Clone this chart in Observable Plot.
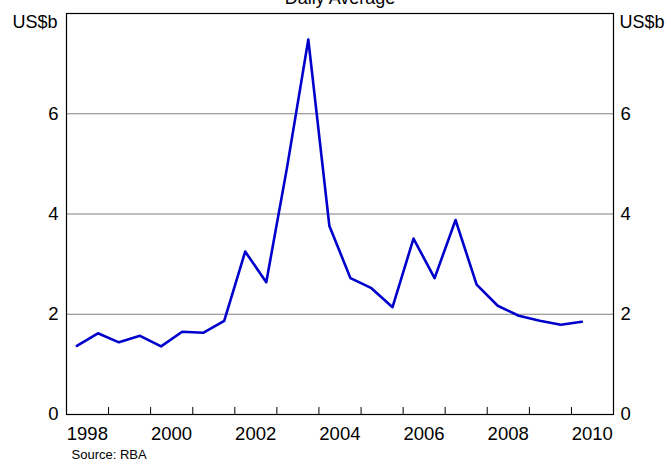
<!DOCTYPE html>
<html>
<head>
<meta charset="utf-8">
<script src="https://cdn.jsdelivr.net/npm/d3@7"></script>
<script src="https://cdn.jsdelivr.net/npm/@observablehq/plot@0.6"></script>
<style>
  html, body { margin: 0; padding: 0; background: white; }
</style>
</head>
<body>
<div id="chart"></div>
<script>
// Semi-annual observations (approx. April and October of each year)
const periods = [
  "1998-04-01", "1998-10-01", "1999-04-01", "1999-10-01", "2000-04-01", "2000-10-01",
  "2001-04-01", "2001-10-01", "2002-04-01", "2002-10-01", "2003-04-01", "2003-10-01",
  "2004-04-01", "2004-10-01", "2005-04-01", "2005-10-01", "2006-04-01", "2006-10-01",
  "2007-04-01", "2007-10-01", "2008-04-01", "2008-10-01", "2009-04-01", "2009-10-01",
  "2010-04-01"
];
const turnover = [
  1.37, 1.62, 1.44, 1.57, 1.36, 1.65,
  1.63, 1.87, 3.25, 2.64, 4.95, 7.48,
  3.76, 2.72, 2.52, 2.14, 3.51, 2.72,
  3.88, 2.59, 2.17, 1.97, 1.87, 1.79,
  1.85
];
const yTicks = [0, 2, 4, 6];
const gridValues = [2, 4, 6];
const yearTickDates = ["1999","2000","2001","2002","2003","2004","2005","2006","2007","2008","2009","2010"];
const yearLabelDates = ["1998-07-01","2000-07-01","2002-07-01","2004-07-01","2006-07-01","2008-07-01","2010-07-01"];
const xDomain = ["1998-01-01", "2011-01-01"];
const title = "Daily Average";
const unit = "US$b";
const source = "Source: RBA";

const data = periods.map((p, i) => ({date: new Date(p), value: turnover[i]}));

const chart = Plot.plot({
  width: 671,
  height: 464,
  marginLeft: 66,
  marginRight: 58,
  marginTop: 13,
  marginBottom: 50,
  style: {fontFamily: "'Liberation Sans', Arial, sans-serif", fontSize: "18px", color: "black", background: "white"},
  x: {type: "utc", domain: xDomain.map(d => new Date(d))},
  y: {domain: [0, 8]},
  marks: [
    Plot.gridY(gridValues, {stroke: "#808080", strokeOpacity: 1, strokeWidth: 1.2}),
    Plot.ruleX(yearTickDates.map(d => new Date(d)), {stroke: "black", insetTop: 394}),
    Plot.frame({stroke: "black", strokeWidth: 1.2}),
    Plot.axisX(yearLabelDates.map(d => new Date(d)), {tickSize: 0, tickPadding: 12, tickFormat: "%Y", fontSize: 18.5}),
    Plot.axisY(yTicks, {anchor: "left", tickSize: 0, tickPadding: 8, label: null, tickFormat: d3.format("d"), fontSize: 18.5}),
    Plot.axisY(yTicks, {anchor: "right", tickSize: 0, tickPadding: 7, label: null, tickFormat: d3.format("d"), fontSize: 18.5}),
    Plot.line(data, {x: "date", y: "value", stroke: "#0000cc", strokeWidth: 2.6}),
    Plot.text([unit], {frameAnchor: "top-left", textAnchor: "end", lineAnchor: "middle", dx: -9, dy: 9, fontSize: 18}),
    Plot.text([unit], {frameAnchor: "top-right", textAnchor: "start", lineAnchor: "middle", dx: 6, dy: 9, fontSize: 18}),
    Plot.text([title], {frameAnchor: "top", lineAnchor: "bottom", dy: -10, fontSize: 18}),
    Plot.text([source], {frameAnchor: "bottom-left", textAnchor: "start", lineAnchor: "middle", dx: 5, dy: 40, fontSize: 13})
  ]
});
document.getElementById("chart").appendChild(chart);
</script>
</body>
</html>
